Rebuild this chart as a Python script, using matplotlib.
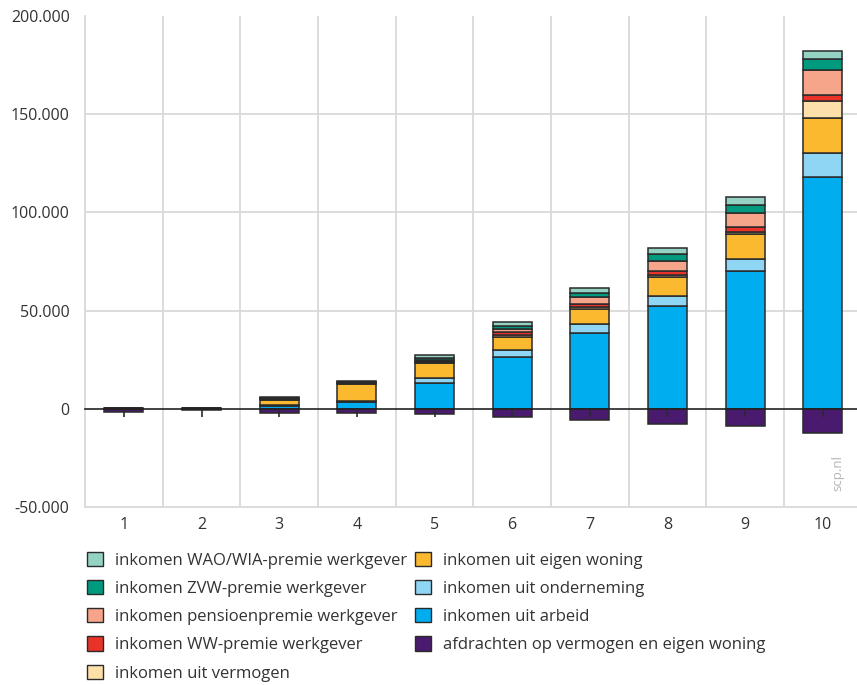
import matplotlib
matplotlib.use("Agg")
from matplotlib import pyplot as plt
from matplotlib.patches import Patch
from matplotlib.ticker import FuncFormatter
import numpy as np

# deciles
deciles = [1, 2, 3, 4, 5, 6, 7, 8, 9, 10]

# positive components, bottom to top
arbeid = [100, 100, 1300, 3700, 13200, 26300, 38700, 52400, 70400, 118200]
onderneming = [0, 0, 500, 300, 2300, 3700, 4300, 5100, 6000, 12000]
eigen_woning = [100, 200, 2700, 8600, 7800, 6600, 7600, 9500, 12400, 17800]
vermogen = [50, 100, 300, 300, 700, 1000, 1300, 1300, 1400, 8500]
ww_premie = [20, 20, 100, 100, 300, 1400, 1700, 2000, 2500, 3400]
pensioen_premie = [50, 50, 200, 200, 700, 1700, 3100, 4800, 7000, 12700]
zvw_premie = [50, 50, 400, 400, 1100, 1700, 2500, 3700, 4200, 5400]
wao_premie = [50, 50, 400, 400, 1100, 1700, 2500, 3100, 4100, 4200]

# negative component
afdrachten = [-1500, -400, -2000, -2000, -2700, -4300, -5600, -7600, -9000, -12400]

y_ticks = [-50000, 0, 50000, 100000, 150000, 200000]

stack = [
    ("inkomen uit arbeid", arbeid, "#00aeef"),
    ("inkomen uit onderneming", onderneming, "#8fd6f5"),
    ("inkomen uit eigen woning", eigen_woning, "#fbb92f"),
    ("inkomen uit vermogen", vermogen, "#fde0a9"),
    ("inkomen WW-premie werkgever", ww_premie, "#e8322a"),
    ("inkomen pensioenpremie werkgever", pensioen_premie, "#f6a58a"),
    ("inkomen ZVW-premie werkgever", zvw_premie, "#009a7e"),
    ("inkomen WAO/WIA-premie werkgever", wao_premie, "#94d2c4"),
]
afdracht_label = "afdrachten op vermogen en eigen woning"
afdracht_color = "#4a1a6e"

plt.rcParams["font.family"] = ["Open Sans", "DejaVu Sans"]
text_color = "#333333"
grid_color = "#d9d9d9"
edge = "#2a2a2a"

fig = plt.figure(figsize=(8.57, 6.85), dpi=100)
ax = fig.add_axes([0.0992, 0.2599, 0.9008, 0.7167])

x = np.array(deciles)
bottom = np.zeros(len(x))
for label, vals, color in stack:
    ax.bar(x, vals, width=0.5, bottom=bottom, color=color,
           edgecolor=edge, linewidth=1.1, zorder=2)
    bottom += np.array(vals)
ax.bar(x, afdrachten, width=0.5, color=afdracht_color,
       edgecolor=edge, linewidth=1.1, zorder=2)

ax.set_xlim(0.5, 10.44)
ax.set_ylim(-50000, 200000)

# grid
for b in np.arange(1.5, 10.5, 1.0):
    ax.axvline(b, color=grid_color, lw=1.3, zorder=0)
for yv in [50000, 100000, 150000]:
    ax.axhline(yv, color=grid_color, lw=1.3, zorder=0)

for side in ["top", "right"]:
    ax.spines[side].set_visible(False)
ax.spines["left"].set_color(grid_color)
ax.spines["left"].set_linewidth(1.3)
ax.spines["bottom"].set_color(grid_color)
ax.spines["bottom"].set_linewidth(1.3)

ax.set_yticks(y_ticks)
ax.yaxis.set_major_formatter(FuncFormatter(lambda v, p: f"{int(v):,}".replace(",", ".")))
ax.set_xticks(deciles)
ax.tick_params(axis="both", length=0, labelsize=11.5, colors=text_color)
ax.tick_params(axis="y", pad=11)
ax.tick_params(axis="x", pad=7)

# zero line with small ticks
sec = ax.secondary_xaxis(0, transform=ax.transData)
sec.set_xticks(deciles)
sec.set_xticklabels([])
sec.tick_params(direction="out", length=6, width=1.2, color=edge)
sec.spines["bottom"].set_color("#222222")
sec.spines["bottom"].set_linewidth(1.2)
sec.set_zorder(5)

ax.text(0.975, 0.07, "scp.nl", transform=ax.transAxes, rotation=90,
        color="#b5b5b5", fontsize=9.5, ha="center", va="center")

# legend
handles = [Patch(facecolor=c, edgecolor=edge, linewidth=1.0, label=l)
           for l, v, c in reversed(stack[3:])]
handles += [Patch(facecolor=c, edgecolor=edge, linewidth=1.0, label=l)
            for l, v, c in reversed(stack[:3])]
handles.append(Patch(facecolor=afdracht_color, edgecolor=edge, linewidth=1.0,
                     label=afdracht_label))
fig.legend(handles=handles, ncol=2, loc="upper left",
           bbox_to_anchor=(0.094, 0.2045), frameon=False,
           fontsize=12, labelcolor=text_color, handlelength=0.95,
           handleheight=0.95, handletextpad=0.7, columnspacing=0.5,
           labelspacing=0.68, borderaxespad=0)

fig.savefig("out.png", dpi=100)
